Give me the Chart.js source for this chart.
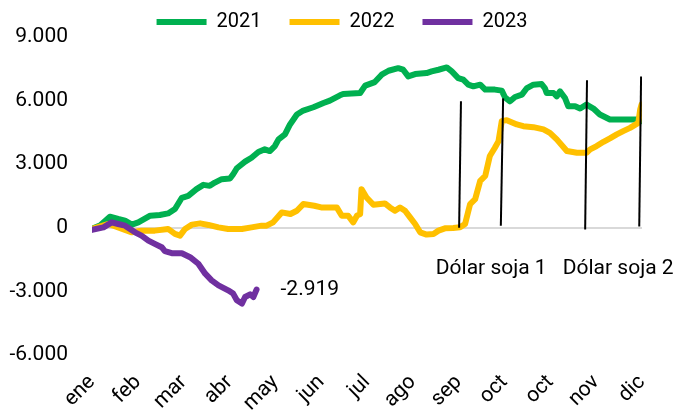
<!DOCTYPE html>
<html>
<head>
<meta charset="utf-8">
<script src="https://cdn.jsdelivr.net/npm/chart.js@4.4.1/dist/chart.umd.min.js"></script>
<style>
  html, body { margin: 0; padding: 0; background: #fff; }
  #wrap { width: 684px; height: 412px; }
</style>
</head>
<body>
<div id="wrap"><canvas id="chart" width="684" height="412"></canvas></div>
<script>
// month ticks (x = month index, 0 = ene ... 12 = dic)
const monthLabels = ['ene', 'feb', 'mar', 'abr', 'may', 'jun', 'jul', 'ago', 'sep', 'oct', 'oct', 'nov', 'dic'];
const yTicks = [-6000, -3000, 0, 3000, 6000, 9000];

// series: [month position, value]
const serie2021 = [
  [0.00, -47], [0.17, 94], [0.39, 516], [0.57, 408], [0.72, 328], [0.87, 141], [1.01, 248],
  [1.27, 563], [1.48, 595], [1.66, 670], [1.81, 877], [1.96, 1406], [2.10, 1500], [2.28, 1814],
  [2.43, 2016], [2.57, 1969], [2.68, 2123], [2.83, 2283], [3.01, 2311], [3.08, 2517], [3.16, 2798],
  [3.34, 3108], [3.48, 3295], [3.63, 3563], [3.77, 3689], [3.88, 3609], [3.99, 3844], [4.07, 4158],
  [4.21, 4392], [4.32, 4861], [4.47, 5330], [4.61, 5517], [4.83, 5672], [5.05, 5873], [5.19, 5986],
  [5.41, 6234], [5.48, 6295], [5.85, 6342], [5.96, 6689], [6.17, 6858], [6.32, 7205], [6.47, 7392],
  [6.68, 7514], [6.79, 7439], [6.90, 7125], [7.05, 7233], [7.30, 7280], [7.41, 7359], [7.56, 7439],
  [7.74, 7547], [7.85, 7359], [7.99, 7045], [8.10, 6970], [8.21, 6736], [8.32, 6656], [8.47, 6736],
  [8.58, 6502], [8.79, 6502], [8.94, 6455], [9.01, 6141], [9.12, 5953], [9.23, 6155], [9.38, 6267],
  [9.49, 6577], [9.63, 6736], [9.81, 6764], [9.88, 6577], [9.92, 6342], [10.07, 6342], [10.14, 6188],
  [10.21, 6422], [10.32, 6108], [10.39, 5719], [10.54, 5719], [10.65, 5611], [10.79, 5798],
  [10.94, 5611], [11.08, 5330], [11.30, 5095], [11.74, 5095], [11.88, 5100], [12.00, 5016]
];
const serie2022 = [
  [0.00, -61], [0.36, 173], [0.57, 14], [0.87, -220], [1.08, -141], [1.37, -141], [1.66, -61],
  [1.81, -295], [1.92, -375], [2.03, -61], [2.18, 141], [2.36, 202], [2.54, 127], [2.76, 14],
  [2.97, -61], [3.27, -61], [3.48, 14], [3.70, 94], [3.81, 94], [3.95, 248], [4.14, 717], [4.33, 642],
  [4.47, 797], [4.61, 1111], [4.85, 1031], [5.00, 952], [5.34, 952], [5.45, 563], [5.59, 563],
  [5.70, 248], [5.78, 563], [5.85, 642], [5.88, 1814], [5.99, 1420], [6.14, 1078], [6.39, 1139],
  [6.50, 952], [6.61, 797], [6.72, 952], [6.83, 797], [6.94, 483], [7.05, 173], [7.16, -220],
  [7.30, -328], [7.45, -295], [7.56, -141], [7.70, -33], [7.88, -14], [8.03, 14], [8.14, 173],
  [8.25, 1111], [8.36, 1345], [8.47, 2203], [8.58, 2438], [8.68, 3375], [8.79, 3764], [8.87, 4078],
  [8.94, 5016], [9.05, 5063], [9.27, 4861], [9.41, 4781], [9.63, 4734], [9.85, 4627], [9.99, 4467],
  [10.14, 4158], [10.36, 3609], [10.58, 3530], [10.79, 3530], [10.87, 3689], [11.01, 3844],
  [11.16, 4045], [11.30, 4205], [11.45, 4392], [11.59, 4547], [11.74, 4702], [11.92, 4936],
  [11.96, 5564], [11.99, 5798]
];
const serie2023 = [
  [0.00, -108], [0.25, 14], [0.43, 248], [0.57, 173], [0.72, 94], [0.94, -220], [1.08, -375],
  [1.23, -609], [1.37, -764], [1.52, -923], [1.59, -1111], [1.74, -1205], [1.96, -1205],
  [2.14, -1392], [2.32, -1702], [2.47, -2170], [2.61, -2484], [2.76, -2719], [2.97, -2953],
  [3.08, -3108], [3.16, -3422], [3.27, -3577], [3.34, -3267], [3.45, -3141], [3.52, -3267],
  [3.59, -2919]
];

// "Dólar soja" marker lines: [x, y] bottom and top
const sojaLines = [
  [[8.01, 0], [8.05, 5950]],
  [[8.92, 90], [8.97, 6090]],
  [[10.76, -90], [10.80, 6940]],
  [[11.94, 50], [11.98, 7120]]
];
const sojaLabels = [
  { text: 'Dólar soja 1', x: 8.71, y: -1920 },
  { text: 'Dólar soja 2', x: 11.48, y: -1920 }
];

const FONT = 'Roboto, "Liberation Sans", sans-serif';

const toXY = arr => arr.map(p => ({ x: p[0], y: p[1] }));
const fmt = v => Math.round(v).toLocaleString('en-US').replace(/,/g, '.');

const datasets = [
  { label: '2021', data: toXY(serie2021), borderColor: '#00b050', order: 3 },
  { label: '2022', data: toXY(serie2022), borderColor: '#ffc000', order: 2 },
  { label: '2023', data: toXY(serie2023), borderColor: '#7030a0', order: 1 }
].map(d => Object.assign(d, {
  backgroundColor: d.borderColor,
  borderWidth: 6,
  borderCapStyle: 'round',
  borderJoinStyle: 'round',
  pointRadius: 0,
  tension: 0
}));

sojaLines.forEach((l, i) => {
  datasets.push({
    label: 'soja' + (i + 1),
    data: toXY(l),
    borderColor: '#000',
    borderWidth: 2,
    pointRadius: 0,
    order: 0,
    isMarker: true
  });
});

// legend: keep it short and centred on the whole canvas
const legendPlace = {
  id: 'legendPlace',
  beforeLayout(chart) {
    const lg = chart.legend;
    if (lg && !lg._patched) {
      const fit = lg.fit;
      lg.fit = function () { fit.call(this); this.height = 35; };
      lg._patched = true;
    }
  },
  afterLayout(chart) {
    const lg = chart.legend;
    lg.left = 0;
    lg.right = chart.width;
    lg.width = chart.width;
    lg.top = -16;
  }
};

const textPlugin = {
  id: 'texts',
  afterDatasetsDraw(chart) {
    const { ctx, scales: { x, y } } = chart;
    ctx.save();
    ctx.fillStyle = '#000';
    ctx.font = '21px ' + FONT;
    ctx.textBaseline = 'middle';
    ctx.textAlign = 'center';
    sojaLabels.forEach(l => ctx.fillText(l.text, x.getPixelForValue(l.x), y.getPixelForValue(l.y)));
    const last = serie2023[serie2023.length - 1];
    ctx.textAlign = 'left';
    ctx.fillText(fmt(last[1]), x.getPixelForValue(last[0]) + 24, y.getPixelForValue(last[1]));
    ctx.restore();
  }
};

new Chart(document.getElementById('chart'), {
  type: 'line',
  data: { datasets },
  plugins: [legendPlace, textPlugin],
  options: {
    responsive: false,
    animation: false,
    layout: { padding: { left: 0, right: 42, top: 0, bottom: 0 } },
    plugins: {
      tooltip: { enabled: false },
      legend: {
        position: 'top',
        labels: {
          usePointStyle: true,
          pointStyle: 'line',
          pointStyleWidth: 50,
          boxHeight: 20,
          padding: 28,
          color: '#000',
          font: { family: FONT, size: 20 },
          filter: item => !datasets[item.datasetIndex].isMarker,
          sort: (a, b) => a.datasetIndex - b.datasetIndex
        }
      }
    },
    scales: {
      x: {
        type: 'linear',
        min: 0,
        max: 12,
        grid: { display: false, drawTicks: false },
        border: { display: false },
        afterBuildTicks: s => { s.ticks = monthLabels.map((_, i) => ({ value: i })); },
        afterFit: s => { s.height = 57; },
        ticks: {
          autoSkip: false,
          minRotation: 45,
          maxRotation: 45,
          padding: 15,
          color: '#000',
          font: { family: FONT, size: 21 },
          callback: v => monthLabels[v]
        }
      },
      y: {
        min: yTicks[0],
        max: yTicks[yTicks.length - 1],
        afterBuildTicks: s => { s.ticks = yTicks.map(v => ({ value: v })); },
        afterFit: s => { s.width = 92; },
        grid: {
          drawTicks: false,
          lineWidth: 2,
          color: c => (c.tick && c.tick.value === 0 ? '#d9d9d9' : 'rgba(0,0,0,0)')
        },
        border: { display: false },
        ticks: {
          padding: 24,
          color: '#000',
          font: { family: FONT, size: 21 },
          callback: v => fmt(v)
        }
      }
    }
  }
});
</script>
</body>
</html>
